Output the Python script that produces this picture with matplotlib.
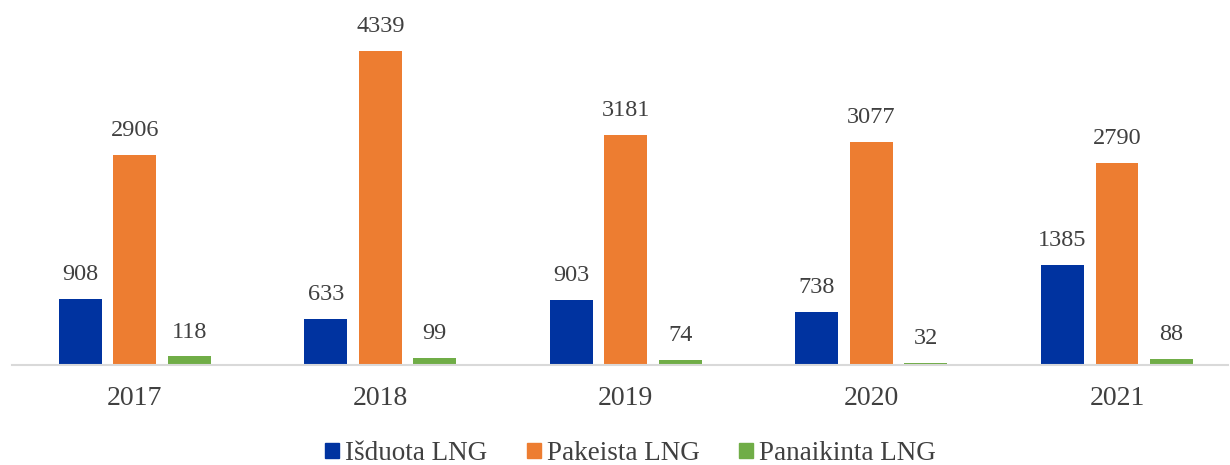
import matplotlib
matplotlib.use("Agg")
import matplotlib.pyplot as plt
from matplotlib.patches import Patch
import numpy as np

years = ["2017", "2018", "2019", "2020", "2021"]
series_names = ["Išduota LNG", "Pakeista LNG", "Panaikinta LNG"]
isduota = [908, 633, 903, 738, 1385]
pakeista = [2906, 4339, 3181, 3077, 2790]
panaikinta = [118, 99, 74, 32, 88]
colors = ["#0033A0", "#ED7D31", "#70AD47"]

plt.rcParams['font.family'] = ['Liberation Serif', 'DejaVu Serif']
text_color = "#404040"

fig = plt.figure(figsize=(12.3, 4.65), dpi=100)
ax = fig.add_axes([12/1230, 1 - 365/465, (1228-12)/1230, 365/465])

x = np.arange(len(years))
width = 0.175
offset = 0.222
for i, (vals, c) in enumerate(zip([isduota, pakeista, panaikinta], colors)):
    pos = x + (i - 1) * offset
    ax.bar(pos, vals, width=width, color=c, zorder=2)
    for px, v in zip(pos, vals):
        ax.annotate(str(v), (px, v), xytext=(0, 17.6), textcoords='offset points',
                    ha='center', va='center', fontsize=17.5, color=text_color)

ax.set_xlim(-0.5, 4.452)
ax.set_ylim(0, 5044)
ax.set_xticks(x)
ax.set_xticklabels(years, fontsize=20, color=text_color)
ax.tick_params(axis='x', length=0, pad=15)
ax.set_yticks([])
for s in ['top', 'right', 'left']:
    ax.spines[s].set_visible(False)
ax.spines['bottom'].set_color('#D9D9D9')
ax.spines['bottom'].set_linewidth(1.5)
ax.patch.set_alpha(0)

handles = [Patch(color=c, label=n) for c, n in zip(colors, series_names)]
leg = fig.legend(handles=handles, loc='center', bbox_to_anchor=(0.5126, 0.0247), ncol=3,
                 frameon=False, fontsize=19.5, handlelength=0.52, handleheight=0.48,
                 handletextpad=0.22, columnspacing=1.45, borderpad=0, borderaxespad=0)
for t in leg.get_texts():
    t.set_color(text_color)

fig.savefig("out.png", dpi=100)
